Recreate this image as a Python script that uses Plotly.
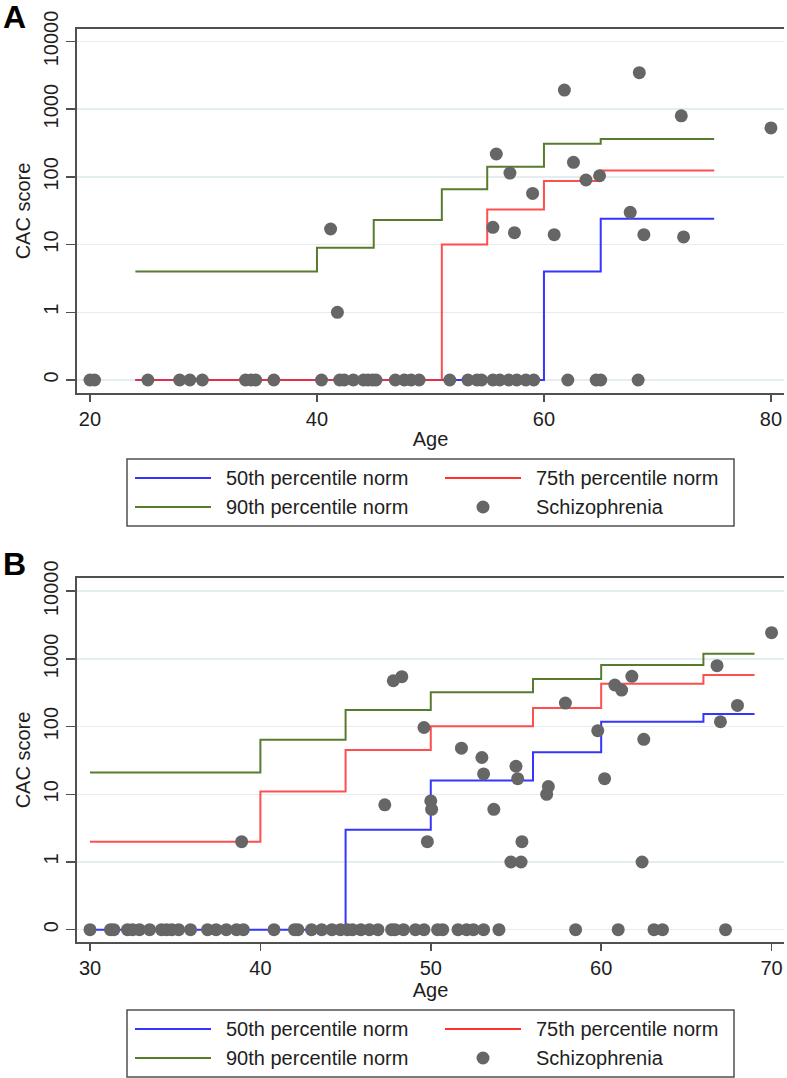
import plotly.graph_objects as go

# ---------------- data ----------------
# Panel A
A_NORM_AGE = [24, 40, 45, 51, 55, 60, 65, 75]
A_P50 = [0, 0, 0, 0, 0, 4, 24, 24]
A_P75 = [0, 0, 0, 10, 33, 87, 124, 124]
A_P90 = [4, 9, 23, 66, 141, 309, 363, 363]

A_AGE = [20.0, 20.4, 25.1, 27.9, 28.8, 29.9, 33.7, 34.2, 34.6, 36.2, 40.4, 42.0, 42.4,
         43.2, 44.1, 44.5, 44.9, 45.2, 46.9, 47.7, 48.3, 49.0, 51.7, 53.3, 54.1, 54.5,
         55.5, 56.1, 56.9, 57.6, 58.4, 59.1, 62.1, 64.6, 65.0, 68.3,
         41.2, 41.8, 55.8, 57.0, 59.0, 55.5, 57.4, 60.9, 61.8, 62.6, 63.7, 64.9, 68.4,
         67.6, 68.8, 72.1, 72.3, 80.0]
A_CAC = [0] * 36 + [17, 1, 218, 114, 57, 18, 15, 14, 1920, 164, 90, 104, 3470,
                    30, 14, 800, 13, 530]

# Panel B
B_NORM_AGE = [30, 40, 45, 50, 56, 60, 66, 69]
B_P50 = [0, 0, 3, 16, 42, 118, 153, 153]
B_P75 = [2, 11, 45, 101, 188, 430, 578, 578]
B_P90 = [21, 64, 176, 321, 505, 813, 1194, 1194]

B_AGE = [30.0, 31.2, 31.4, 32.2, 32.5, 32.9, 33.5, 34.2, 34.5, 34.8, 35.2, 35.9, 36.9,
         37.4, 38.0, 38.6, 39.0, 40.8, 42.0, 42.2, 43.0, 43.6, 44.2, 44.7, 45.1, 45.4,
         45.9, 46.4, 46.9, 47.7, 47.9, 48.4, 49.1, 49.6, 50.4, 50.7, 51.6, 52.1, 52.5,
         53.1, 54.0, 58.5, 61.0, 63.1, 63.6, 67.3,
         38.9, 47.3, 47.8, 48.3, 49.6, 49.8, 50.0, 50.05, 51.8, 53.0, 53.1, 53.7, 54.7,
         55.3, 55.35, 55.0, 55.1, 56.8, 56.9, 57.9, 59.8, 60.2, 60.8, 61.2, 61.8, 62.5,
         62.4, 66.8, 67.0, 68.0, 70.0]
B_CAC = [0] * 46 + [2, 7, 476, 546, 97, 2, 8, 6, 48, 35, 20, 6, 1,
                    1, 2, 26, 17, 10, 13, 223, 87, 17, 412, 347, 553, 65,
                    1, 794, 118, 206, 2440]

Y_TICKS = [0, 1, 10, 100, 1000, 10000]
A_X_TICKS = [20, 40, 60, 80]
B_X_TICKS = [30, 40, 50, 60, 70]
LEGEND_LABELS = ["50th percentile norm", "75th percentile norm",
                 "90th percentile norm", "Schizophrenia"]

# ---------------- styling ----------------
W, H = 787, 1078
ZERO_POS = 0.1  # where a score of 0 sits on the log axis
FONT = "Liberation Sans, Arial, sans-serif"
FS = 20
TXT = "#1e1e1e"
AX = "#505050"
GRID = "#e5eeee"
C50, C75, C90, CPT = "#3535ff", "#ff3030", "#587c2e", "#666666"


def pos(v):
    return [x if x > 0 else ZERO_POS for x in v]


fig = go.Figure()

for (xa, ya, nage, p50, p75, p90, age, cac) in [
    ("x", "y", A_NORM_AGE, A_P50, A_P75, A_P90, A_AGE, A_CAC),
    ("x2", "y2", B_NORM_AGE, B_P50, B_P75, B_P90, B_AGE, B_CAC),
]:
    for vals, col, name, op in [(p50, C50, LEGEND_LABELS[0], 1.0),
                                (p75, C75, LEGEND_LABELS[1], 0.85),
                                (p90, C90, LEGEND_LABELS[2], 1.0)]:
        fig.add_trace(go.Scatter(x=nage, y=pos(vals), mode="lines", line_shape="hv",
                                 line=dict(color=col, width=2), name=name, opacity=op,
                                 xaxis=xa, yaxis=ya, showlegend=False))
    fig.add_trace(go.Scatter(x=age, y=pos(cac), mode="markers",
                             marker=dict(color=CPT, size=13, line=dict(width=0)),
                             name=LEGEND_LABELS[3], xaxis=xa, yaxis=ya, showlegend=False,
                             cliponaxis=False))


def px(x):
    return x / W


def py(y):
    return 1 - y / H


ytickvals = pos(Y_TICKS)
yticktext = [str(t) for t in Y_TICKS]

common_x = dict(ticks="outside", ticklen=7, tickwidth=1.5, tickcolor=AX,
                showline=True, linecolor=AX, linewidth=2, mirror=True,
                showgrid=False, zeroline=False, automargin=False,
                tickfont=dict(size=FS, color=TXT, family=FONT),
                title=dict(text="Age", font=dict(size=FS, color=TXT, family=FONT), standoff=3))
common_y = dict(type="log", tickvals=ytickvals, ticktext=yticktext, tickangle=-90,
                ticks="outside", ticklen=9, tickwidth=1.5, tickcolor=AX,
                showline=True, linecolor=AX, linewidth=2, automargin=False,
                showgrid=True, gridcolor=GRID, gridwidth=1.5, zeroline=False,
                tickfont=dict(size=FS, color=TXT, family=FONT),
                title=dict(text="CAC score", font=dict(size=FS, color=TXT, family=FONT), standoff=4))

fig.update_layout(
    template="none",
    width=W, height=H,
    margin=dict(l=0, r=0, t=0, b=0, pad=0),
    paper_bgcolor="white", plot_bgcolor="white",
    font=dict(family=FONT, color=TXT),
    showlegend=False,
    hovermode=False,
    xaxis=dict(domain=[px(77), px(784)], range=[18.855, 81.15], tickvals=A_X_TICKS,
               anchor="y", **common_x),
    yaxis=dict(domain=[py(393), py(29)], range=[-1.192, 4.185], anchor="x", **common_y),
    xaxis2=dict(domain=[px(77), px(784)], range=[29.237, 70.73], tickvals=B_X_TICKS,
                anchor="y2", **common_x),
    yaxis2=dict(domain=[py(942.3), py(577.7)], range=[-1.186, 4.2], anchor="x2", **common_y),
)

shapes = []
annots = []

# panel letters
for letter, yc in [("A", 17), ("B", 564)]:
    annots.append(dict(text="<b>%s</b>" % letter, x=px(1), y=py(yc), xref="paper", yref="paper",
                       xanchor="left", yanchor="middle", showarrow=False,
                       font=dict(size=32, color="#000000", family=FONT)))

# legends (one box per panel)
for top in [459, 1010]:
    r1, r2 = top + 19, top + 48
    bottom = top + 67
    shapes.append(dict(type="rect", xref="paper", yref="paper",
                       x0=px(127), x1=px(734), y0=py(bottom), y1=py(top),
                       line=dict(color=AX, width=1.5), fillcolor="rgba(0,0,0,0)"))
    for (lx0, lx1, ly, col) in [(135, 211, r1, C50), (445, 521, r1, C75), (135, 211, r2, C90)]:
        shapes.append(dict(type="line", xref="paper", yref="paper",
                           x0=px(lx0), x1=px(lx1), y0=py(ly), y1=py(ly),
                           line=dict(color=col, width=2)))
    shapes.append(dict(type="circle", xref="paper", yref="paper",
                       x0=px(483 - 6.5), x1=px(483 + 6.5), y0=py(r2 + 6.5), y1=py(r2 - 6.5),
                       fillcolor=CPT, line=dict(width=0)))
    for (tx, ty, lab) in [(224, r1, LEGEND_LABELS[0]), (534, r1, LEGEND_LABELS[1]),
                          (224, r2, LEGEND_LABELS[2]), (534, r2, LEGEND_LABELS[3])]:
        annots.append(dict(text=lab, x=px(tx), y=py(ty), xref="paper", yref="paper",
                           xanchor="left", yanchor="middle", showarrow=False,
                           font=dict(size=FS, color=TXT, family=FONT)))

fig.update_layout(shapes=shapes, annotations=annots)

fig.write_html("out.html", config={"displayModeBar": False, "staticPlot": True},
               post_script="document.body.style.margin='0';document.body.style.overflow='hidden';")
